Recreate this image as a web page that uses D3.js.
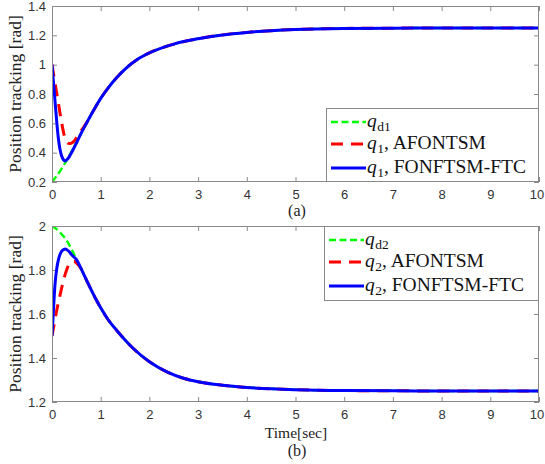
<!DOCTYPE html>
<html><head><meta charset="utf-8">
<script src="https://cdn.jsdelivr.net/npm/d3@7"></script>
<style>
html,body{margin:0;padding:0;background:#fff;}
svg{display:block;}
.tick text{font-family:"Liberation Sans",Arial,sans-serif;font-size:13px;fill:#333;}
.serif{font-family:"Liberation Serif","Times New Roman",serif;}
</style>
</head><body>
<svg id="c" width="545" height="464"></svg>
<script>
// ---------- data ----------
const xTicks = [0,1,2,3,4,5,6,7,8,9,10];
const yTicksA = [0.2,0.4,0.6,0.8,1,1.2,1.4];
const yTicksB = [1.2,1.4,1.6,1.8,2];

// panel (a)
const tA_d = [0,0.1,0.2,0.3,0.4,0.5,0.6,0.7,0.8,0.9,1,1.15,1.33,1.5,1.75,2,2.5,3,3.5,4,4.5,5,6,7,8,9,10];
const qd1  = [0.2,0.243,0.292,0.348,0.408,0.47,0.533,0.596,0.657,0.715,0.77,0.84,0.912,0.97,1.035,1.08,1.14,1.177,1.203,1.22,1.232,1.24,1.247,1.249,1.25,1.25,1.25];
const tA_r = [0,0.05,0.1,0.15,0.2,0.25,0.3,0.35,0.4,0.45,0.5,0.6,0.7,0.8,0.9,1,1.15,1.33,1.5,1.75,2,2.5,3,3.5,4,4.5,5,6,7,8,9,10];
const q1_afontsm = [1,0.9,0.8,0.7,0.6,0.52,0.475,0.462,0.465,0.478,0.5,0.55,0.598,0.657,0.715,0.77,0.84,0.912,0.97,1.035,1.08,1.14,1.177,1.203,1.22,1.232,1.24,1.247,1.249,1.25,1.25,1.25];
const tA_b = [0,0.03,0.06,0.1,0.13,0.16,0.2,0.24,0.27,0.3,0.35,0.4,0.47,0.6,0.7,0.8,0.9,1,1.15,1.33,1.5,1.75,2,2.5,3,3.5,4,4.5,5,6,7,8,9,10];
const q1_fonftsm = [1,0.88,0.76,0.6,0.5,0.43,0.375,0.35,0.343,0.35,0.37,0.4,0.445,0.533,0.596,0.657,0.715,0.77,0.84,0.912,0.97,1.035,1.08,1.14,1.177,1.203,1.22,1.232,1.24,1.247,1.249,1.25,1.25,1.25];

// panel (b)
const tB_d = [0,0.1,0.2,0.3,0.4,0.5,0.6,0.7,0.8,0.9,1,1.15,1.33,1.5,1.67,2,2.36,2.7,3,3.5,4,4.5,5,6,7,8,9,10];
const qd2  = [2,1.985,1.962,1.935,1.895,1.85,1.805,1.758,1.712,1.668,1.628,1.575,1.525,1.482,1.443,1.383,1.337,1.308,1.292,1.276,1.266,1.26,1.256,1.252,1.251,1.25,1.25,1.25];
const tB_r = [0,0.05,0.1,0.15,0.2,0.25,0.3,0.35,0.4,0.45,0.5,0.6,0.7,0.8,0.9,1,1.15,1.33,1.5,1.67,2,2.36,2.7,3,3.5,4,4.5,5,6,7,8,9,10];
const q2_afontsm = [1.5,1.56,1.62,1.67,1.72,1.765,1.8,1.826,1.838,1.84,1.832,1.805,1.758,1.712,1.668,1.628,1.575,1.525,1.482,1.443,1.383,1.337,1.308,1.292,1.276,1.266,1.26,1.256,1.252,1.251,1.25,1.25,1.25];
const tB_b = [0,0.03,0.06,0.1,0.13,0.16,0.2,0.24,0.27,0.3,0.35,0.4,0.5,0.6,0.7,0.8,0.9,1,1.15,1.33,1.5,1.67,2,2.36,2.7,3,3.5,4,4.5,5,6,7,8,9,10];
const q2_fonftsm = [1.5,1.62,1.73,1.81,1.845,1.868,1.886,1.893,1.895,1.893,1.884,1.87,1.848,1.805,1.758,1.712,1.668,1.628,1.575,1.525,1.482,1.443,1.383,1.337,1.308,1.292,1.276,1.266,1.26,1.256,1.252,1.251,1.25,1.25,1.25];

const legendA = [{sub:"d1", rest:""},{sub:"1", rest:", AFONTSM"},{sub:"1", rest:", FONFTSM-FTC"}];
const legendB = [{sub:"d2", rest:""},{sub:"2", rest:", AFONTSM"},{sub:"2", rest:", FONFTSM-FTC"}];

// ---------- drawing ----------
const svg = d3.select("#c");
const X0 = 52, X1 = 539;
const axisCol = "#8a8a8a";
const styles = [
  {color:"#00ff00", width:2.4, dash:"7,3.5"},
  {color:"#ff0000", width:3, dash:"12,8"},
  {color:"#0000ff", width:3, dash:null}
];

function panel(id, top, bottom, yDom, yTicks, series, legend, legTop, legBottom, legX, rowY, caption, captionY, xlabel) {
  const x = d3.scaleLinear().domain([0,10]).range([X0,X1]);
  const y = d3.scaleLinear().domain(yDom).range([bottom, top]);
  const g = svg.append("g");
  g.append("clipPath").attr("id", "clip"+id).append("rect")
    .attr("x", X0).attr("y", top).attr("width", X1-X0).attr("height", bottom-top);

  const styleAxis = sel => {
    sel.select(".domain").remove();
    sel.selectAll(".tick line").attr("stroke", axisCol);
  };
  const xb = g.append("g").attr("transform", `translate(0,${bottom})`)
    .call(d3.axisBottom(x).tickValues(xTicks).tickFormat(d3.format("d")).tickSizeInner(-5).tickSizeOuter(0).tickPadding(8))
    .call(styleAxis);
  xb.selectAll(".tick text").filter(d => d === 10).attr("dx", -2.5);
  g.append("g").attr("transform", `translate(0,${top})`)
    .call(d3.axisTop(x).tickValues(xTicks).tickFormat("").tickSizeInner(-5).tickSizeOuter(0))
    .call(styleAxis);
  g.append("g").attr("transform", `translate(${X0},0)`)
    .call(d3.axisLeft(y).tickValues(yTicks).tickFormat(d => String(+d.toFixed(1))).tickSizeInner(-5).tickSizeOuter(0).tickPadding(6))
    .call(styleAxis);
  g.append("g").attr("transform", `translate(${X1},0)`)
    .call(d3.axisRight(y).tickValues(yTicks).tickFormat("").tickSizeInner(-5).tickSizeOuter(0))
    .call(styleAxis);

  const line = d3.line().x(d => x(d[0])).y(d => y(d[1])).curve(d3.curveMonotoneX);
  const lg = g.append("g").attr("clip-path", `url(#clip${id})`);
  series.forEach((s, i) => {
    const st = styles[i];
    lg.append("path").datum(s.t.map((t, k) => [t, s.v[k]]))
      .attr("d", line).attr("fill", "none")
      .attr("stroke", st.color).attr("stroke-width", st.width)
      .attr("stroke-dasharray", st.dash);
  });

  g.append("rect").attr("x", X0+0.5).attr("y", top+0.5).attr("width", X1-X0-1).attr("height", bottom-top-1)
    .attr("fill", "none").attr("stroke", axisCol).attr("stroke-width", 1);

  // legend
  const lgd = g.append("g");
  lgd.append("rect").attr("x", legX+0.5).attr("y", legTop+0.5).attr("width", X1-legX-1).attr("height", legBottom-legTop-1)
    .attr("fill", "#fff").attr("stroke", axisCol).attr("stroke-width", 1);
  legend.forEach((e, i) => {
    const st = styles[i];
    const yy = rowY[i];
    lgd.append("line").attr("x1", legX+5).attr("x2", legX+40).attr("y1", yy).attr("y2", yy)
      .attr("stroke", st.color).attr("stroke-width", st.width).attr("stroke-dasharray", st.dash);
    const t = lgd.append("text").attr("class", "serif").attr("x", legX+41).attr("y", yy+5)
      .attr("font-size", 19.5).attr("fill", "#111");
    t.append("tspan").attr("font-style", "italic").text("q");
    const ts = t.append("tspan").attr("font-size", 13.5).attr("dy", 4).attr("dx", 0.5).text(e.sub);
    if (e.rest) t.append("tspan").attr("dy", -4).text(e.rest);
  });

  // y label
  g.append("text").attr("class", "serif").attr("font-size", 17.5).attr("fill", "#222")
    .attr("text-anchor", "middle")
    .attr("transform", `translate(21,${(top+bottom)/2}) rotate(-90)`)
    .text("Position tracking [rad]");

  if (xlabel) {
    g.append("text").attr("class", "serif").attr("font-size", 15.5).attr("fill", "#222")
      .attr("text-anchor", "middle").attr("x", 296).attr("y", 438).text(xlabel);
  }
  g.append("text").attr("class", "serif").attr("font-size", 16).attr("fill", "#222")
    .attr("text-anchor", "middle").attr("x", 297).attr("y", captionY).text(caption);
}

panel("a", 6, 182, [0.2,1.4], yTicksA,
  [{t:tA_d, v:qd1},{t:tA_r, v:q1_afontsm},{t:tA_b, v:q1_fonftsm}],
  legendA, 108, 182, 326, [122,144,168], "(a)", 216, null);
panel("b", 226, 402, [1.2,2], yTicksB,
  [{t:tB_d, v:qd2},{t:tB_r, v:q2_afontsm},{t:tB_b, v:q2_fonftsm}],
  legendB, 226, 301, 324, [240,262,286], "(b)", 456, "Time[sec]");
</script>
</body></html>
